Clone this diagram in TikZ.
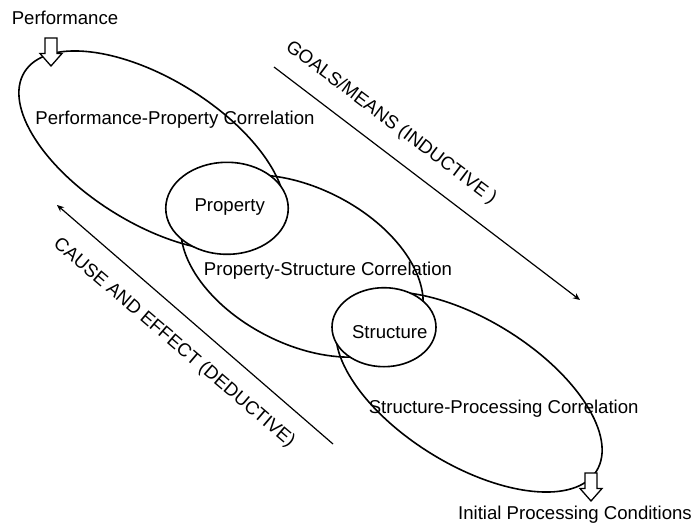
\documentclass[tikz,border=0pt]{standalone}
\usepackage{fontspec}
\setmainfont{Liberation Sans}
\usetikzlibrary{shapes.geometric,arrows.meta}

\begin{document}
\begin{tikzpicture}[x=1pt,y=-1pt,
  every node/.style={inner sep=0pt,font=\fontsize{18.6}{22}\selectfont},
  corr/.style={draw,ellipse,line width=1.6pt},
  core/.style={draw,ellipse,fill=white,line width=1.6pt},
  flow/.style={line width=1.2pt,-{Stealth[length=7pt,width=6pt]}},
  bigarrow/.style={draw,fill=white,line width=1.3pt,line join=miter}]
\useasboundingbox (0,0) rectangle (696,527);

% correlation ellipses, each one shifted down the diagonal
\node[corr,minimum width=300pt,minimum height=144.6pt,rotate=-31.75] (perfprop) at (152,151) {};
\node[corr,minimum width=260pt,minimum height=156pt,rotate=-27] (propstruct) at (302,266) {};
\node[corr,minimum width=300pt,minimum height=144.6pt,rotate=-31.75] (structproc) at (469,392) {};

% the overlaps, painted white over the crossings
\node[core,minimum width=122.5pt,minimum height=92pt] (property) at (227,208.3) {};
\node[core,minimum width=104pt,minimum height=79pt] (structure) at (384,327.2) {};

% texts
\node[anchor=base] (perftxt) at (65,25) {Performance};
\node[anchor=base] (perfproptxt) at (175,124.3) {Performance-Property Correlation};
\node[anchor=base] (proptxt) at (229.7,211) {Property};
\node[anchor=base] (propstructtxt) at (328,275) {Property-Structure Correlation};
\node[anchor=base] (structtxt) at (389.8,338.3) {Structure};
\node[anchor=base] (structproctxt) at (503.7,413.3) {Structure-Processing Correlation};
\node[anchor=base] (inittxt) at (575,519) {Initial Processing Conditions};

% in and out block arrows
\coordinate (perftip) at (51,66);
\coordinate (inittip) at (591,501);
\foreach \t in {perftip,inittip}
  \draw[bigarrow] (\t) -- ++(-11,-12.5) -- ++(5,0) -- ++(0,-15.5) -- ++(12,0)
    -- ++(0,15.5) -- ++(5,0) -- cycle;

% the two reasoning directions
\coordinate (goalsfrom) at (274,67);
\coordinate (goalsto) at (580,300);
\draw[flow] (goalsfrom) -- (goalsto);
\node[rotate=-37] (goals) at (391,123) {GOALS/MEANS (INDUCTIVE )};

\coordinate (causefrom) at (333,444);
\coordinate (causeto) at (57,205);
\draw[flow] (causefrom) -- (causeto);
\node[rotate=-40.5] (cause) at (174,343) {CAUSE AND EFFECT (DEDUCTIVE)};
\end{tikzpicture}
\end{document}
